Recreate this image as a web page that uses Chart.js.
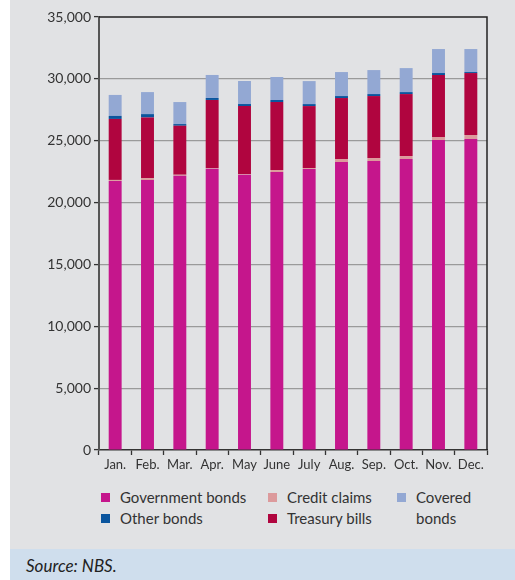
<!DOCTYPE html>
<html><head><meta charset="utf-8">
<script src="https://cdn.jsdelivr.net/npm/chart.js@4.4.1/dist/chart.umd.min.js"></script>
<style>
html,body{margin:0;padding:0;background:#fff;}
#wrap{position:absolute;left:10px;top:0;width:505px;height:549px;background:#e1e2e4;}
#cv{position:absolute;left:0;top:0;}
#src{position:absolute;left:10px;top:549px;width:505px;height:31px;background:#cfdeed;}
#src span{position:absolute;left:16px;top:6px;font-family:Lato,sans-serif;font-style:italic;font-size:17px;color:#222;}
.lg{position:absolute;font-family:Lato,sans-serif;font-size:15px;color:#333;line-height:21px;white-space:nowrap;}
.sw{position:absolute;width:9px;height:9px;}
</style></head><body>
<div id="wrap"><canvas id="cv"></canvas></div>
<div id="src"><span>Source: NBS.</span></div>
<div id="legend"></div>
<script>
const categories = ["Jan.","Feb.","Mar.","Apr.","May","June","July","Aug.","Sep.","Oct.","Nov.","Dec."];
const governmentBonds = [21750,21820,22170,22740,22250,22470,22710,23280,23360,23520,25060,25140];
const creditClaims    = [80,160,80,55,55,160,80,240,240,240,240,320];
const treasuryBills   = [4930,4900,3960,5500,5500,5500,5010,4930,5010,5010,5010,5010];
const otherBonds      = [245,270,135,160,160,160,160,160,160,160,160,80];
const coveredBonds    = [1695,1780,1780,1860,1860,1860,1860,1940,1940,1940,1940,1860];
const yTicks = [0,5000,10000,15000,20000,25000,30000,35000];

const series = [
  {label:"Government bonds", data:governmentBonds, color:"#c5168c"},
  {label:"Credit claims", data:creditClaims, color:"#dc9a9c"},
  {label:"Treasury bills", data:treasuryBills, color:"#b0053f"},
  {label:"Other bonds", data:otherBonds, color:"#0a559e"},
  {label:"Covered bonds", data:coveredBonds, color:"#93a8d3"}
];

// legend (HTML)
const legendItems = [
  {s:0,x:101,y:492,t:"Government bonds"},
  {s:1,x:268,y:492,t:"Credit claims"},
  {s:4,x:397,y:492,t:"Covered<br>bonds"},
  {s:3,x:101,y:513,t:"Other bonds"},
  {s:2,x:268,y:513,t:"Treasury bills"}
];
const lg = document.getElementById('legend');
legendItems.forEach(it=>{
  const sw=document.createElement('div');sw.className='sw';
  sw.style.left=it.x+'px';sw.style.top=(it.y+1)+'px';sw.style.background=series[it.s].color;
  lg.appendChild(sw);
  const tx=document.createElement('div');tx.className='lg';
  tx.style.left=(it.x+19)+'px';tx.style.top=(it.y-5)+'px';tx.innerHTML=it.t;
  lg.appendChild(tx);
});

const cv=document.getElementById('cv');
cv.width=505;cv.height=480;cv.style.width='505px';cv.style.height='480px';

const framePlugin={id:'frame',afterDatasetsDraw(chart){
  const {ctx,chartArea:a}=chart;
  ctx.save();ctx.strokeStyle='#222';ctx.lineWidth=1.5;
  ctx.beginPath();ctx.moveTo(a.left,a.top);ctx.lineTo(a.right,a.top);ctx.lineTo(a.right,a.bottom);ctx.stroke();
  ctx.restore();
}};

new Chart(cv,{
  type:'bar',
  data:{labels:categories,datasets:series.map(s=>({label:s.label,data:s.data,backgroundColor:s.color,borderWidth:0,barPercentage:0.8,categoryPercentage:0.5}))},
  options:{
    responsive:false,animation:false,
    layout:{padding:{top:17,right:28,left:0,bottom:0}},
    plugins:{legend:{display:false},tooltip:{enabled:false}},
    scales:{
      x:{stacked:true,
        grid:{offset:true,drawOnChartArea:false,tickLength:5,tickColor:'#333',tickWidth:1.3},
        border:{color:'#333',width:1.5},
        ticks:{color:'#333',font:{family:'Lato',size:13},padding:2,maxRotation:0,autoSkip:false},
        afterFit(s){s.height=30;}
      },
      y:{stacked:true,min:0,max:35000,
        afterBuildTicks(s){s.ticks=yTicks.map(v=>({value:v}));},
        grid:{color:c=>(c.tick&&(c.tick.value===0||c.tick.value===35000))?'rgba(0,0,0,0)':'#9a9a9a',
          borderDash:[2,3],lineWidth:1.2,tickLength:5,tickColor:'#333',tickWidth:1.3,tickBorderDash:[]},
        border:{color:'#555',width:2,dash:[]},
        ticks:{color:'#333',font:{family:'Lato',size:14},padding:3,callback:v=>v.toLocaleString('en-US')},
        afterFit(s){s.width=89;}
      }
    }
  },
  plugins:[framePlugin]
});
</script>
</body></html>
